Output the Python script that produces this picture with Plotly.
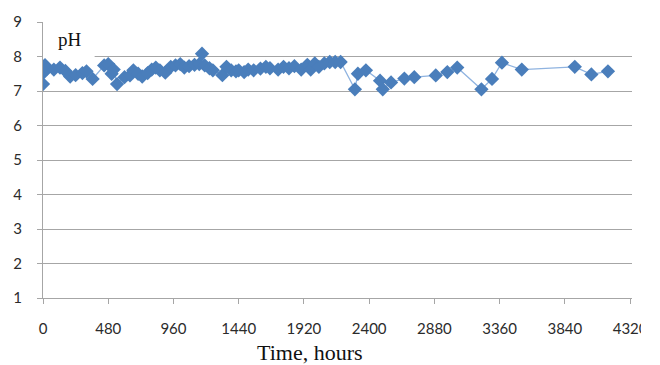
import plotly.graph_objects as go

# Elapsed time (hours) and measured pH
hours = [0, 3, 8, 15, 30, 80, 125, 165, 200, 240, 290, 320, 365, 450, 480, 505,
         520, 545, 600, 640, 665, 700, 730, 770, 800, 830, 860, 900, 940, 975,
         1010, 1040, 1075, 1115, 1150, 1170, 1190, 1225, 1250, 1320, 1350, 1385,
         1420, 1440, 1480, 1510, 1550, 1600, 1640, 1670, 1730, 1770, 1810, 1850,
         1900, 1945, 1970, 2000, 2030, 2070, 2110, 2150, 2190, 2295, 2317, 2376,
         2480, 2500, 2561, 2659, 2732, 2890, 2975, 3048, 3226, 3304, 3377, 3523,
         3913, 4035, 4157]
ph = [7.20, 7.70, 7.55, 7.75, 7.65, 7.62, 7.68, 7.58, 7.42, 7.46, 7.52, 7.57,
      7.35, 7.74, 7.78, 7.50, 7.62, 7.20, 7.40, 7.45, 7.60, 7.50, 7.42, 7.52,
      7.62, 7.68, 7.60, 7.53, 7.70, 7.74, 7.78, 7.68, 7.72, 7.76, 7.78, 8.08,
      7.74, 7.66, 7.60, 7.46, 7.70, 7.60, 7.57, 7.60, 7.55, 7.62, 7.60, 7.65,
      7.70, 7.66, 7.62, 7.70, 7.66, 7.72, 7.62, 7.76, 7.62, 7.80, 7.70, 7.80,
      7.84, 7.84, 7.84, 7.05, 7.50, 7.60, 7.30, 7.05, 7.25, 7.36, 7.40, 7.45,
      7.55, 7.68, 7.05, 7.35, 7.82, 7.62, 7.70, 7.48, 7.57]

x_ticks = [0, 480, 960, 1440, 1920, 2400, 2880, 3360, 3840, 4320]
y_ticks = [1, 2, 3, 4, 5, 6, 7, 8, 9]

W, H = 660, 365
L, R, T, B = 43, 24, 15.5, 67
PW, PH = W - L - R, H - T - B

grid = "#a6a6a6"
tick_font = dict(family="Lato, 'Noto Sans', sans-serif", size=15, color="#2b2b2b")
serif = "'Liberation Serif', serif"


def px_x(px):
    return (px - L) / PW


def px_y(py):
    return 1 - (py - T) / PH


fig = go.Figure()
fig.add_trace(go.Scatter(
    x=hours, y=ph, mode="lines+markers",
    line=dict(color="#8fb3e0", width=1.3),
    marker=dict(symbol="diamond", size=11, color="#4a7ebb",
                line=dict(width=0)),
    showlegend=False,
))

# white label box that hides the gridline behind "pH"
fig.add_shape(type="rect", xref="x", yref="y", x0=0, x1=380, y0=7.9, y1=8.7,
              fillcolor="white", line=dict(width=0), layer="between")
fig.add_annotation(x=px_x(70), y=px_y(33), xref="paper", yref="paper",
                   text="pH", showarrow=False,
                   xanchor="center", yanchor="middle",
                   font=dict(family=serif, size=19, color="#111111"))

# axis title
fig.add_annotation(x=px_x(312), y=px_y(354), xref="paper", yref="paper",
                   text="Time, hours", showarrow=False,
                   xanchor="center", yanchor="middle",
                   font=dict(family=serif, size=22, color="#111111"))

# the chart is trimmed at its right edge
fig.add_shape(type="rect", xref="paper", yref="paper",
              x0=px_x(645), x1=px_x(W + 2), y0=px_y(H + 2), y1=px_y(-2),
              fillcolor="white", line=dict(width=0), layer="above")

fig.update_layout(
    width=W, height=H,
    margin=dict(l=L, r=R, t=T, b=B),
    paper_bgcolor="white", plot_bgcolor="white",
    xaxis=dict(
        range=[0, 4334], tickvals=x_ticks, ticktext=[str(v) for v in x_ticks],
        showgrid=False, zeroline=False,
        showline=True, linecolor=grid, linewidth=1.3,
        ticks="outside", ticklen=5, tickcolor=grid, tickwidth=1.3,
        tickfont=tick_font, ticklabelstandoff=12,
    ),
    yaxis=dict(
        range=[1, 9], tickvals=y_ticks,
        showgrid=True, gridcolor=grid, gridwidth=1.3, zeroline=False,
        showline=True, linecolor=grid, linewidth=1.3,
        ticks="outside", ticklen=5, tickcolor=grid, tickwidth=1.3,
        tickfont=tick_font, ticklabelstandoff=12,
    ),
)

fig.write_html("out.html")
